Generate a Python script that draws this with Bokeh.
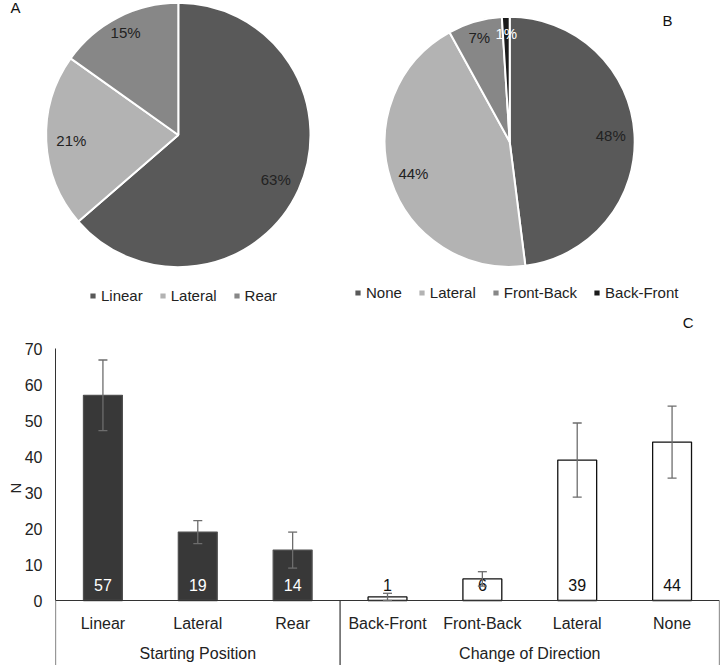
import math
from bokeh.plotting import figure
from bokeh.models import (Range1d, FactorRange, ColumnDataSource, Whisker, TeeHead,
                          FixedTicker, Legend, LegendItem)
from bokeh.layouts import column, row
from bokeh.embed import file_html
from bokeh.resources import INLINE
from bokeh.core.properties import value

FONT = "Liberation Sans"
TXT = "#222222"

# ---------------- data ----------------
pieA_labels = ["Linear", "Lateral", "Rear"]
pieA_pct = [63, 21, 15]
pieA_colors = ["#595959", "#b3b3b3", "#878787"]

pieB_labels = ["None", "Lateral", "Front-Back", "Back-Front"]
pieB_pct = [48, 44, 7, 1]
pieB_colors = ["#595959", "#b3b3b3", "#878787", "#1a1a1a"]

groups = ["Starting Position", "Change of Direction"]
start_cats = ["Linear", "Lateral", "Rear"]
start_vals = [57, 19, 14]
start_err = [9.8, 3.2, 5.0]
dir_cats = ["Back-Front", "Front-Back", "Lateral", "None"]
dir_vals = [1, 6, 39, 44]
dir_err = [1.0, 2.0, 10.3, 10.0]
y_ticks = [0, 10, 20, 30, 40, 50, 60, 70]


def pie_fig(w, h, cx, cy, r, labels, pct, colors, label_colors, leg_loc, tag, tag_xy):
    p = figure(width=w, height=h, x_range=Range1d(0, w), y_range=Range1d(0, h),
               output_backend="svg", toolbar_location=None, min_border=0,
               x_axis_type=None, y_axis_type=None, outline_line_color=None)
    p.grid.visible = False
    total = float(sum(pct))
    starts, ends, lx, ly, txt = [], [], [], [], []
    cum = 0.0
    for v in pct:
        a0 = cum / total
        a1 = (cum + v) / total
        starts.append(math.pi / 2 - a0 * 2 * math.pi)
        ends.append(math.pi / 2 - a1 * 2 * math.pi)
        mid = (a0 + a1) / 2 * 2 * math.pi
        f = 0.81 if v / total >= 0.2 else 0.87
        lx.append(cx + r * f * math.sin(mid))
        ly.append(cy + r * f * math.cos(mid))
        txt.append(f"{v}%")
        cum += v
    src = ColumnDataSource(dict(start=starts, end=ends, color=colors, lx=lx, ly=ly,
                                txt=txt, tc=label_colors))
    wr = p.wedge(x=cx, y=cy, radius=r, start_angle="start", end_angle="end",
                 direction="clock", fill_color="color", line_color="white",
                 line_width=2, source=src)
    p.text(x="lx", y="ly", text="txt", text_color="tc", text_align="center",
           text_baseline="middle", text_font=value(FONT), text_font_size="15px",
           source=src)
    items = [LegendItem(label=lab, renderers=[wr], index=i) for i, lab in enumerate(labels)]
    leg = Legend(items=items, orientation="horizontal", location=leg_loc,
                 glyph_width=9, glyph_height=9, label_standoff=4, spacing=15,
                 padding=0, margin=0, border_line_color=None,
                 background_fill_alpha=0, label_text_font=FONT,
                 label_text_font_size="15px", label_text_color=TXT, label_height=16)
    p.add_layout(leg)
    p.text(x=[tag_xy[0]], y=[tag_xy[1]], text=[tag], text_align="center",
           text_baseline="middle", text_font=value(FONT), text_font_size="15px",
           text_color="#111111")
    return p


ROW_H = 310
pA = pie_fig(340, ROW_H, 177.8, ROW_H - 134.5, 132.2, pieA_labels, pieA_pct, pieA_colors,
             [TXT] * 3, (88, 6), "A", (15, ROW_H - 7))
pB = pie_fig(381, ROW_H, 169.2, ROW_H - 141.3, 125.0, pieB_labels, pieB_pct, pieB_colors,
             [TXT, TXT, TXT, "white"], (13, 9), "B", (327, ROW_H - 20))

# ---------------- bar chart ----------------
W, H = 721, 355
PX = 3.6           # pixels per unit
ZERO_FROM_TOP = 290
y0 = -(H - ZERO_FROM_TOP) / PX
y1 = ZERO_FROM_TOP / PX

factors = [(groups[0], c) for c in start_cats] + [(groups[1], c) for c in dir_cats]
vals = start_vals + dir_vals
errs = start_err + dir_err
ncat = len(factors)

src = ColumnDataSource(dict(
    x=factors,
    top=vals,
    upper=[v + e for v, e in zip(vals, errs)],
    lower=[v - e for v, e in zip(vals, errs)],
    fill=["#383838"] * len(start_vals) + ["white"] * len(dir_vals),
    line=["#505050"] * len(start_vals) + ["#111111"] * len(dir_vals),
    lbl=[str(v) for v in vals],
    tc=["white"] * len(start_vals) + ["#111111"] * len(dir_vals),
    cat=start_cats + dir_cats,
))

pC = figure(width=W, height=H,
            x_range=FactorRange(*factors, group_padding=0, factor_padding=0, range_padding=0),
            y_range=Range1d(y0, y1), output_backend="svg", toolbar_location=None,
            min_border_left=55, min_border_right=2, min_border_top=0, min_border_bottom=0,
            x_axis_location=None, outline_line_color=None)
pC.grid.visible = False

ax = pC.yaxis[0]
ax.bounds = (0, 70)
ax.ticker = FixedTicker(ticks=y_ticks)
ax.major_tick_out = 0
ax.major_tick_in = 0
ax.minor_tick_out = 0
ax.minor_tick_in = 0
ax.axis_line_color = "#333333"
ax.major_label_text_font = FONT
ax.major_label_text_font_size = "16px"
ax.major_label_text_color = TXT
ax.major_label_standoff = 13
ax.axis_label = "N"
ax.axis_label_text_font = FONT
ax.axis_label_text_font_size = "15px"
ax.axis_label_text_font_style = "normal"
ax.axis_label_text_color = TXT
ax.axis_label_standoff = -2

pC.vbar(x="x", top="top", width=0.41, fill_color="fill", line_color="line",
        line_width=1.3, source=src)

whisk = Whisker(source=src, base="x", upper="upper", lower="lower",
                line_color="#6d6d6d", line_width=1.3, level="overlay",
                upper_head=TeeHead(size=9, line_color="#6d6d6d", line_width=1.3),
                lower_head=TeeHead(size=9, line_color="#6d6d6d", line_width=1.3))
pC.add_layout(whisk)

pC.text(x="x", y=4.4, text="lbl", text_color="tc", text_align="center",
        text_baseline="middle", text_font=value(FONT), text_font_size="16px", source=src)

# category labels and group labels
pC.text(x="x", y=-6.4, text="cat", text_color=TXT, text_align="center",
        text_baseline="middle", text_font=value(FONT), text_font_size="16px", source=src)
pC.text(x=groups, y=[-14.7] * 2, text=groups, text_color=TXT, text_align="center",
        text_baseline="middle", text_font=value(FONT), text_font_size="16px")

# baseline and group separators
pC.segment(x0=[0], y0=[0], x1=[ncat], y1=[0], line_color="#333333", line_width=1.2)
seps = [0, len(start_cats), ncat]
pC.segment(x0=seps, y0=[0] * 3, x1=seps, y1=[y0] * 3, line_color="#333333", line_width=1.2)

pC.text(x=[6.67], y=[77.2], text=["C"], text_align="center", text_baseline="middle",
        text_font=value(FONT), text_font_size="15px", text_color="#111111")

layout = column(row(pA, pB), pC)
open("out.html", "w").write(file_html(layout, INLINE))
